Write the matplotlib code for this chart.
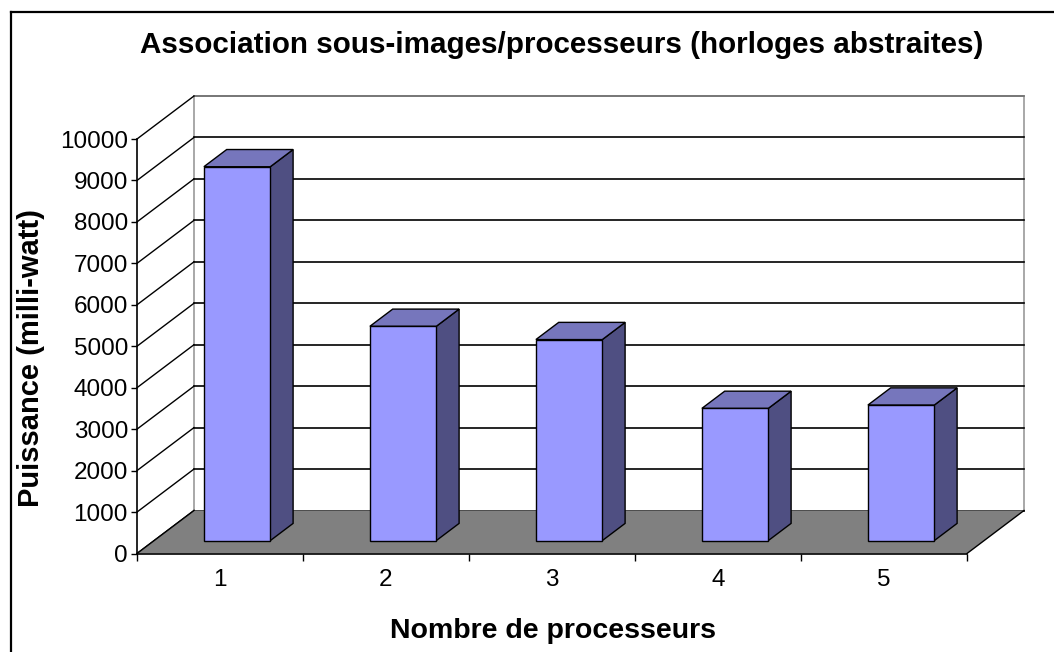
import matplotlib
matplotlib.use("Agg")
import matplotlib.pyplot as plt
from matplotlib.patches import Polygon, Rectangle
from matplotlib.lines import Line2D

plt.rcParams['font.family'] = ['Liberation Sans', 'DejaVu Sans']

# puissance mesurée par nombre de processeurs
processeurs = ["1", "2", "3", "4", "5"]
puissance = [9020, 5170, 4850, 3190, 3270]
graduations = list(range(0, 10001, 1000))

W, H = 1054, 652
fig = plt.figure(figsize=(W / 100, H / 100), dpi=100)

# plan avant du graphe 3D (pixels -> fraction de figure)
x0, x1 = 137, 967
y0, y1 = 553.5, 139
ax = fig.add_axes([x0 / W, (H - y0) / H, (x1 - x0) / W, (y0 - y1) / H])
ax.set_xlim(0, 5)
ax.set_ylim(0, 10000)
ax.patch.set_visible(False)

# décalage de profondeur exprimé en unités de données
DX = 57 / 166
DY = 43 / 41.45 * 1000

# mur du fond
ax.add_patch(Rectangle((DX, DY), 5, 10000, facecolor="white", edgecolor="#999999",
                       linewidth=1.2, clip_on=False, zorder=1))
for v in graduations:
    col = "#707070" if v == 10000 else "black"
    ax.add_line(Line2D([DX, 5 + DX], [v + DY, v + DY], color=col, linewidth=1.2,
                       clip_on=False, zorder=2))
    # lignes obliques du mur gauche
    ax.add_line(Line2D([0, DX], [v, v + DY], color="black", linewidth=1.0,
                       clip_on=False, zorder=2))

# plancher
ax.add_patch(Polygon([(0, 0), (5, 0), (5 + DX, DY), (DX, DY)], closed=True,
                     facecolor="#808080", edgecolor="none", clip_on=False, zorder=3))
ax.add_line(Line2D([5, 5 + DX], [0, DY], color="black", linewidth=1.0, clip_on=False, zorder=3))
ax.add_line(Line2D([0, DX], [0, DY], color="black", linewidth=1.0, clip_on=False, zorder=3))

# barres 3D
d0, d1 = 0.3, 0.7
half = 0.2
for i, v in enumerate(puissance):
    c = i + 0.5
    xa = c - half + d0 * DX
    xb = c + half + d0 * DX
    ya = d0 * DY
    yb = v + d0 * DY
    ox = (d1 - d0) * DX
    oy = (d1 - d0) * DY
    front = Polygon([(xa, ya), (xb, ya), (xb, yb), (xa, yb)], closed=True,
                    facecolor="#9999FF", edgecolor="black", linewidth=1.0,
                    clip_on=False, zorder=5)
    top = Polygon([(xa, yb), (xb, yb), (xb + ox, yb + oy), (xa + ox, yb + oy)], closed=True,
                  facecolor="#7676BC", edgecolor="black", linewidth=1.0,
                  clip_on=False, zorder=5)
    side = Polygon([(xb, ya), (xb + ox, ya + oy), (xb + ox, yb + oy), (xb, yb)], closed=True,
                   facecolor="#4F4F82", edgecolor="black", linewidth=1.0,
                   clip_on=False, zorder=5)
    for p in (side, top, front):
        ax.add_patch(p)

# axes
for s in ("top", "right"):
    ax.spines[s].set_visible(False)
for s in ("left", "bottom"):
    ax.spines[s].set_color("black")
    ax.spines[s].set_linewidth(1.2)
    ax.spines[s].set_zorder(6)

ax.set_yticks(graduations)
ax.set_yticklabels([str(v) for v in graduations])
ax.tick_params(axis="y", direction="out", length=4.5, width=1, pad=2, labelsize=17.5)

ax.set_xticks(range(6))
ax.set_xticklabels([])
ax.set_xticks([i + 0.5 for i in range(5)], minor=True)
ax.set_xticklabels(processeurs, minor=True)
ax.tick_params(axis="x", which="major", direction="out", length=5, width=1)
ax.tick_params(axis="x", which="minor", length=0, pad=11, labelsize=17.5)

# textes
fig.text(562 / W, 1 - 45 / H, "Association sous-images/processeurs (horloges abstraites)",
         ha="center", va="center", fontsize=21.3, fontweight="bold")
fig.text(553 / W, 1 - 631 / H, "Nombre de processeurs",
         ha="center", va="center", fontsize=20.5, fontweight="bold")
fig.text(31 / W, 1 - 358 / H, "Puissance (milli-watt)", rotation=90,
         ha="center", va="center", fontsize=21, fontweight="bold")

# cadre du graphique
fig.add_artist(Line2D([10.5 / W, 10.5 / W], [0, 1 - 12 / H], color="black", linewidth=1.6,
                      transform=fig.transFigure))
fig.add_artist(Line2D([10.5 / W, 1], [1 - 12 / H, 1 - 12 / H], color="black", linewidth=1.6,
                      transform=fig.transFigure))

fig.savefig("out.png", dpi=100, facecolor="white")
